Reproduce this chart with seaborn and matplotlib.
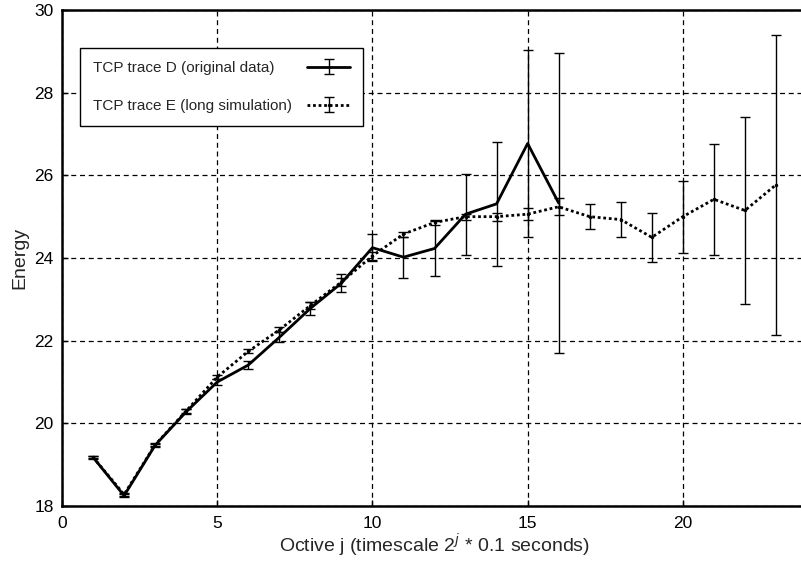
import matplotlib
matplotlib.use("Agg")
import matplotlib.pyplot as plt
import seaborn as sns
from matplotlib.legend_handler import HandlerTuple

# octaves
octave_d = list(range(1, 17))
octave_e = list(range(1, 24))

energy_d = [19.18, 18.25, 19.47, 20.28, 21.0, 21.41, 22.08, 22.78, 23.39, 24.25,
            24.02, 24.23, 25.06, 25.31, 26.77, 25.33]
err_d = [0.04, 0.04, 0.05, 0.06, 0.08, 0.1, 0.12, 0.16, 0.22, 0.33,
         0.5, 0.67, 0.98, 1.5, 2.27, 3.63]

energy_e = [19.18, 18.28, 19.48, 20.3, 21.12, 21.74, 22.26, 22.85, 23.42, 24.05,
            24.58, 24.86, 25.0, 25.0, 25.06, 25.24, 25.0, 24.93, 24.5, 25.0,
            25.42, 25.15, 25.77]
err_e = [0.03, 0.03, 0.03, 0.04, 0.05, 0.05, 0.06, 0.08, 0.1, 0.1,
         0.06, 0.06, 0.07, 0.1, 0.14, 0.2, 0.3, 0.42, 0.6, 0.87,
         1.34, 2.27, 3.63]

label_d = "TCP trace D (original data)"
label_e = "TCP trace E (long simulation)"

sns.set_style("white")
plt.rcParams['font.family'] = ['Liberation Sans', 'DejaVu Sans']

fig = plt.figure(figsize=(8.01, 5.62), dpi=100)
ax = fig.add_axes([62 / 801, 56 / 562, 745 / 801, 496 / 562])

# lines
sns.lineplot(x=octave_d, y=energy_d, color='black', lw=2, ax=ax, legend=False)
sns.lineplot(x=octave_e, y=energy_e, color='black', lw=2, ax=ax, legend=False,
             linestyle=(0, (1, 1)), marker='o', markersize=2.5, markeredgewidth=0)
line_d, line_e = ax.get_lines()[0], ax.get_lines()[1]

# error bars
eb_d = ax.errorbar(octave_d, energy_d, yerr=err_d, fmt='none', ecolor='black',
                   elinewidth=1, capsize=3.5, capthick=1)
eb_e = ax.errorbar(octave_e, energy_e, yerr=err_e, fmt='none', ecolor='black',
                   elinewidth=1, capsize=3.5, capthick=1)

ax.set_xlim(0, 24)
ax.set_ylim(18, 30)
ax.set_xticks([0, 5, 10, 15, 20])
ax.set_yticks([18, 20, 22, 24, 26, 28, 30])
ax.grid(True, color='black', linestyle=(0, (4, 3)), linewidth=0.9)
ax.set_axisbelow(True)
ax.tick_params(direction='in', length=4, width=1, labelsize=12.5, colors='black',
               left=True, bottom=True)
ax.tick_params(axis='x', pad=7)
ax.tick_params(axis='y', pad=6)
for s in ax.spines.values():
    s.set_color('black')
    s.set_linewidth(1.8)
ax.spines['right'].set_visible(False)

ax.set_xlabel(r'Octive j (timescale 2$^{j}$ * 0.1 seconds)', fontsize=14, labelpad=1)
ax.set_ylabel('Energy', fontsize=14, labelpad=4)

leg = ax.legend([(line_d, eb_d), (line_e, eb_e)], [label_d, label_e],
                handler_map={tuple: HandlerTuple(ndivide=1)},
                loc='upper left', bbox_to_anchor=(0.024, 0.923), borderaxespad=0,
                markerfirst=False, fontsize=11, handlelength=2.8,
                labelspacing=1.55, borderpad=0.85, fancybox=False, framealpha=1,
                edgecolor='black', handletextpad=1.0)
leg.get_frame().set_linewidth(1)

# texts left aligned in the box, handles stay in one column on the right
for col in leg._legend_handle_box.get_children():
    col.align = 'left'
fig.canvas.draw()
widths = [t.get_window_extent().width for t in leg.get_texts()]
wmax = max(widths)
for row in leg._legend_handle_box.get_children()[0].get_children():
    txt_area = row.get_children()[0]
    w = txt_area.get_window_extent().width
    row.sep = row.sep + (wmax - w) * 72 / fig.dpi

fig.savefig('out.png', dpi=100)
